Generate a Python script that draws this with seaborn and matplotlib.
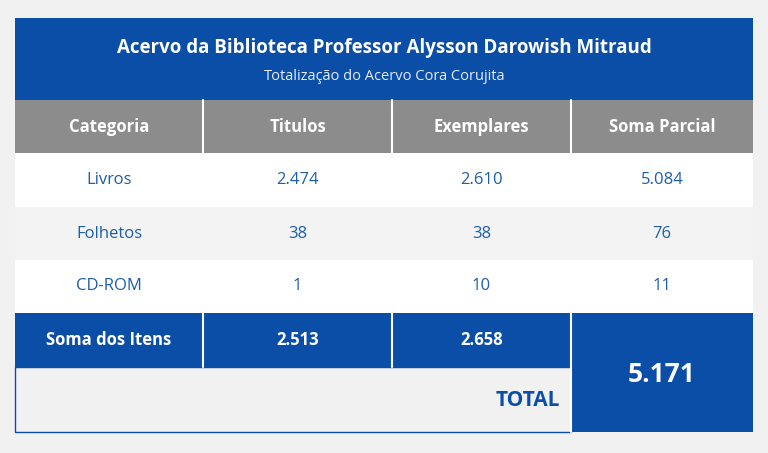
import matplotlib
matplotlib.use("Agg")
import matplotlib.pyplot as plt
import seaborn as sns
from matplotlib.patches import Rectangle

title = "Acervo da Biblioteca Professor Alysson Darowish Mitraud"
subtitle = "Totalização do Acervo Cora Corujita"
columns = ["Categoria", "Titulos", "Exemplares", "Soma Parcial"]
categories = ["Livros", "Folhetos", "CD-ROM"]
titulos = ["2.474", "38", "1"]
exemplares = ["2.610", "38", "10"]
soma_parcial = ["5.084", "76", "11"]
soma_label = "Soma dos Itens"
soma_titulos = "2.513"
soma_exemplares = "2.658"
total_label = "TOTAL"
total_value = "5.171"

sns.set_theme(style="white")
BLUE = "#0b4ea8"
TXT = "#1d5ea8"
GRAY = "#8c8c8c"
BG = "#f1f1f1"
FONT = "Open Sans"

fig = plt.figure(figsize=(7.68, 4.53), dpi=100, facecolor=BG)
ax = fig.add_axes([0, 0, 1, 1])
ax.set_xlim(0, 768); ax.set_ylim(453, 0); ax.axis("off")

xs = [15, 203, 392, 571, 753]
def rect(x0, y0, x1, y1, fc, ec="none", lw=0):
    ax.add_patch(Rectangle((x0, y0), x1 - x0, y1 - y0, facecolor=fc, edgecolor=ec, linewidth=lw))

rect(15, 18, 753, 100, BLUE)
ax.text(384, 48, title, ha="center", va="center", color="white", fontsize=13.5, fontweight="bold", family=FONT)
ax.text(384, 76, subtitle, ha="center", va="center", color="#e6ecf7", fontsize=10.5, family=FONT)

rect(15, 100, 753, 153, GRAY)
for i, c in enumerate(columns):
    if i > 0:
        ax.plot([xs[i], xs[i]], [100, 153], color="white", lw=1.5)
    ax.text((xs[i] + xs[i+1]) / 2, 127, c, ha="center", va="center", color="white", fontsize=12, fontweight="bold", family=FONT)

row_y = [153, 207, 260, 313]
for r in range(3):
    rect(15, row_y[r], 753, row_y[r+1], "white" if r != 1 else "#f3f3f3")
    vals = [categories[r], titulos[r], exemplares[r], soma_parcial[r]]
    for i, v in enumerate(vals):
        ax.text((xs[i] + xs[i+1]) / 2, (row_y[r] + row_y[r+1]) / 2, v, ha="center", va="center",
                color=TXT, fontsize=12, family=FONT)

rect(15, 313, 571, 367, BLUE)
for i, v in enumerate([soma_label, soma_titulos, soma_exemplares]):
    if i > 0:
        ax.plot([xs[i], xs[i]], [313, 367], color="white", lw=1.5)
    ax.text((xs[i] + xs[i+1]) / 2, 340, v, ha="center", va="center", color="white", fontsize=12, fontweight="bold", family=FONT)
rect(571, 313, 753, 432, BLUE)
ax.plot([571, 571], [313, 432], color="white", lw=1.5)
ax.text(662, 374, total_value, ha="center", va="center", color="white", fontsize=19, fontweight="bold", family=FONT)
rect(15, 367, 571, 432, "#f1f1f1", ec=BLUE, lw=1)
ax.text(560, 400, total_label, ha="right", va="center", color=BLUE, fontsize=15, fontweight="bold", family=FONT)

fig.savefig("out.png", dpi=100, facecolor=BG)
